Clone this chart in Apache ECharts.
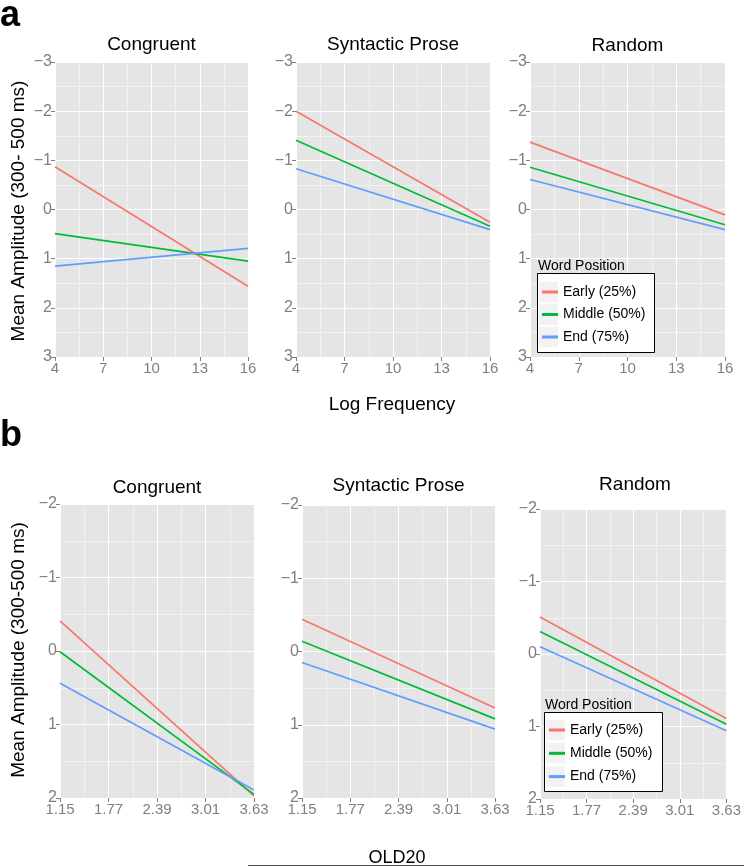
<!DOCTYPE html>
<html><head><meta charset="utf-8">
<script src="https://cdn.jsdelivr.net/npm/echarts@6/dist/echarts.min.js"></script>
<style>html,body{margin:0;padding:0;background:#fff}#c{width:744px;height:866px}</style>
</head><body><div id="c"></div>
<script>
// ---- data ----
const seriesNames = ['Early (25%)', 'Middle (50%)', 'End (75%)'];
const seriesColors = ['#F8766D', '#00BA38', '#619CFF'];
const panelTitles = ['Congruent', 'Syntactic Prose', 'Random'];

// Panel a: Log Frequency (x) vs mean amplitude
const xA = [4, 16];
const aCongruent = { early: [-0.87, 1.56], middle: [0.49, 1.05], end: [1.15, 0.79] };
const aSyntactic = { early: [-2.00, 0.26], middle: [-1.41, 0.34], end: [-0.83, 0.41] };
const aRandom    = { early: [-1.37, 0.11], middle: [-0.86, 0.31], end: [-0.61, 0.41] };
const xTicksA = [4, 7, 10, 13, 16];
const yTicksA = [-3, -2, -1, 0, 1, 2, 3];

// Panel b: OLD20 (x) vs mean amplitude
const xB = [1.15, 3.63];
const bCongruent = { early: [-0.41, 1.97], middle: [0.01, 1.95], end: [0.44, 1.89] };
const bSyntactic = { early: [-0.44, 0.77], middle: [-0.14, 0.92], end: [0.15, 1.06] };
const bRandom    = { early: [-0.51, 0.89], middle: [-0.31, 0.97], end: [-0.10, 1.06] };
const xTicksB = [1.15, 1.77, 2.39, 3.01, 3.63];
const yTicksB = [-2, -1, 0, 1, 2];

// ---- layout ----
const FONT = 'Liberation Sans, Arial, sans-serif';
const gridsA = [
  { left: 55, top: 62, width: 193, height: 295 },
  { left: 296, top: 62, width: 194, height: 295 },
  { left: 530, top: 62, width: 195, height: 295 }
];
const gridsB = [
  { left: 60, top: 504, width: 194, height: 294 },
  { left: 302, top: 505, width: 193, height: 293 },
  { left: 540, top: 509, width: 190, height: 290 }
];
const titleYA = [45, 45, 46];
const titleYB = [488, 486, 485];

const grid = [], xAxis = [], yAxis = [], series = [];
function minus(v) { return String(v).replace('-', '\u2212'); }

function addPanel(g, xt, yt, xs, dataObj) {
  const idx = grid.length;
  grid.push(Object.assign({ show: true, backgroundColor: '#E5E5E5', borderWidth: 0 }, g));
  const interval = +(xt[1] - xt[0]).toFixed(2);
  xAxis.push({
    type: 'value', gridIndex: idx, min: xt[0], max: xt[xt.length - 1], interval: interval,
    axisLine: { show: false, onZero: false },
    axisTick: { show: true, length: 4, lineStyle: { color: '#7F7F7F' } },
    axisLabel: { color: '#7F7F7F', fontSize: 15, fontFamily: FONT, margin: 4, showMinLabel: true, showMaxLabel: true },
    splitLine: { show: true, lineStyle: { color: '#FFFFFF', width: 1 } },
    minorTick: { show: false, splitNumber: 2 },
    minorSplitLine: { show: true, lineStyle: { color: '#F2F2F2', width: 1 } }
  });
  yAxis.push({
    type: 'value', gridIndex: idx, inverse: true, min: yt[0], max: yt[yt.length - 1], interval: 1,
    axisLine: { show: false, onZero: false },
    axisTick: { show: true, length: 4, lineStyle: { color: '#7F7F7F' } },
    axisLabel: { color: '#7F7F7F', fontSize: 16, fontFamily: FONT, margin: 3, formatter: minus, showMinLabel: true, showMaxLabel: true },
    splitLine: { show: true, lineStyle: { color: '#FFFFFF', width: 1 } },
    minorTick: { show: false, splitNumber: 2 },
    minorSplitLine: { show: true, lineStyle: { color: '#F2F2F2', width: 1 } }
  });
  ['early', 'middle', 'end'].forEach((k, i) => {
    series.push({
      type: 'line', name: seriesNames[i], xAxisIndex: idx, yAxisIndex: idx,
      data: xs.map((x, j) => [x, dataObj[k][j]]),
      showSymbol: false, symbol: 'none', silent: true, animation: false,
      lineStyle: { color: seriesColors[i], width: 1.7 }, itemStyle: { color: seriesColors[i] }, z: 2
    });
  });
}

[aCongruent, aSyntactic, aRandom].forEach((d, i) => addPanel(gridsA[i], xTicksA, yTicksA, xA, d));
[bCongruent, bSyntactic, bRandom].forEach((d, i) => addPanel(gridsB[i], xTicksB, yTicksB, xB, d));

function txt(x, y, s, size, opts) {
  return Object.assign({
    type: 'text', x: x, y: y, z: 10,
    style: Object.assign({ text: s, fill: '#000', font: size + 'px ' + FONT, textAlign: 'center', textVerticalAlign: 'middle' }, (opts && opts.style) || {})
  }, opts && opts.el || {});
}

const graphic = [];
graphic.push({ type: 'text', x: 0, y: 16, z: 10, style: { text: 'a', fill: '#000', font: 'bold 36px ' + FONT, textAlign: 'left', textVerticalAlign: 'middle' } });
graphic.push({ type: 'text', x: 0, y: 436, z: 10, style: { text: 'b', fill: '#000', font: 'bold 36px ' + FONT, textAlign: 'left', textVerticalAlign: 'middle' } });
gridsA.forEach((g, i) => graphic.push(txt(g.left + g.width / 2, titleYA[i], panelTitles[i], 19)));
gridsB.forEach((g, i) => graphic.push(txt(g.left + g.width / 2, titleYB[i], panelTitles[i], 19)));
graphic.push(txt(19, 211, 'Mean Amplitude (300- 500 ms)', 19, { el: { rotation: Math.PI / 2 } }));
graphic.push(txt(19, 650, 'Mean Amplitude (300-500 ms)', 19, { el: { rotation: Math.PI / 2 } }));
graphic.push(txt(392, 405, 'Log Frequency', 19));
graphic.push(txt(397, 858, 'OLD20', 18));
graphic.push({ type: 'line', z: 11, shape: { x1: 248, y1: 865.5, x2: 744, y2: 865.5 }, style: { stroke: '#555', lineWidth: 1 } });

// legend boxes (frames + key backgrounds)
function legendFrame(bx, by, bw, bh, kx, rowYs) {
  graphic.push({ type: 'rect', z: 3, shape: { x: bx + 0.5, y: by + 0.5, width: bw, height: bh }, style: { fill: '#fff', stroke: '#000', lineWidth: 1 } });
  rowYs.forEach(y => graphic.push({ type: 'rect', z: 3, shape: { x: kx, y: y - 10.5, width: 19, height: 21 }, style: { fill: '#F2F2F2', stroke: '#FFFFFF', lineWidth: 0.5 } }));
}
legendFrame(537, 273, 117, 79, 539, [292, 314.5, 337]);
legendFrame(544, 712, 118, 79, 546, [730, 753, 776.5]);
graphic.push({ type: 'text', x: 538, y: 266, z: 10, style: { text: 'Word Position', fill: '#000', font: '14px ' + FONT, textAlign: 'left', textVerticalAlign: 'middle' } });
graphic.push({ type: 'text', x: 545, y: 705, z: 10, style: { text: 'Word Position', fill: '#000', font: '14px ' + FONT, textAlign: 'left', textVerticalAlign: 'middle' } });

const legendCommon = {
  orient: 'vertical', icon: 'rect', itemWidth: 16, itemHeight: 3, itemTextGap: 5, padding: 0, z: 4,
  selectedMode: false, data: seriesNames,
  textStyle: { fontSize: 14, fontFamily: FONT, color: '#000', lineHeight: 14 }
};
const legend = [
  Object.assign({}, legendCommon, { left: 542, top: 285, itemGap: 8.5 }),
  Object.assign({}, legendCommon, { left: 549, top: 723, itemGap: 9.3 })
];

const chart = echarts.init(document.getElementById('c'), null, { renderer: 'canvas' });
chart.setOption({
  animation: false, backgroundColor: '#fff',
  grid: grid, xAxis: xAxis, yAxis: yAxis, series: series, legend: legend, graphic: graphic
});
</script></body></html>
